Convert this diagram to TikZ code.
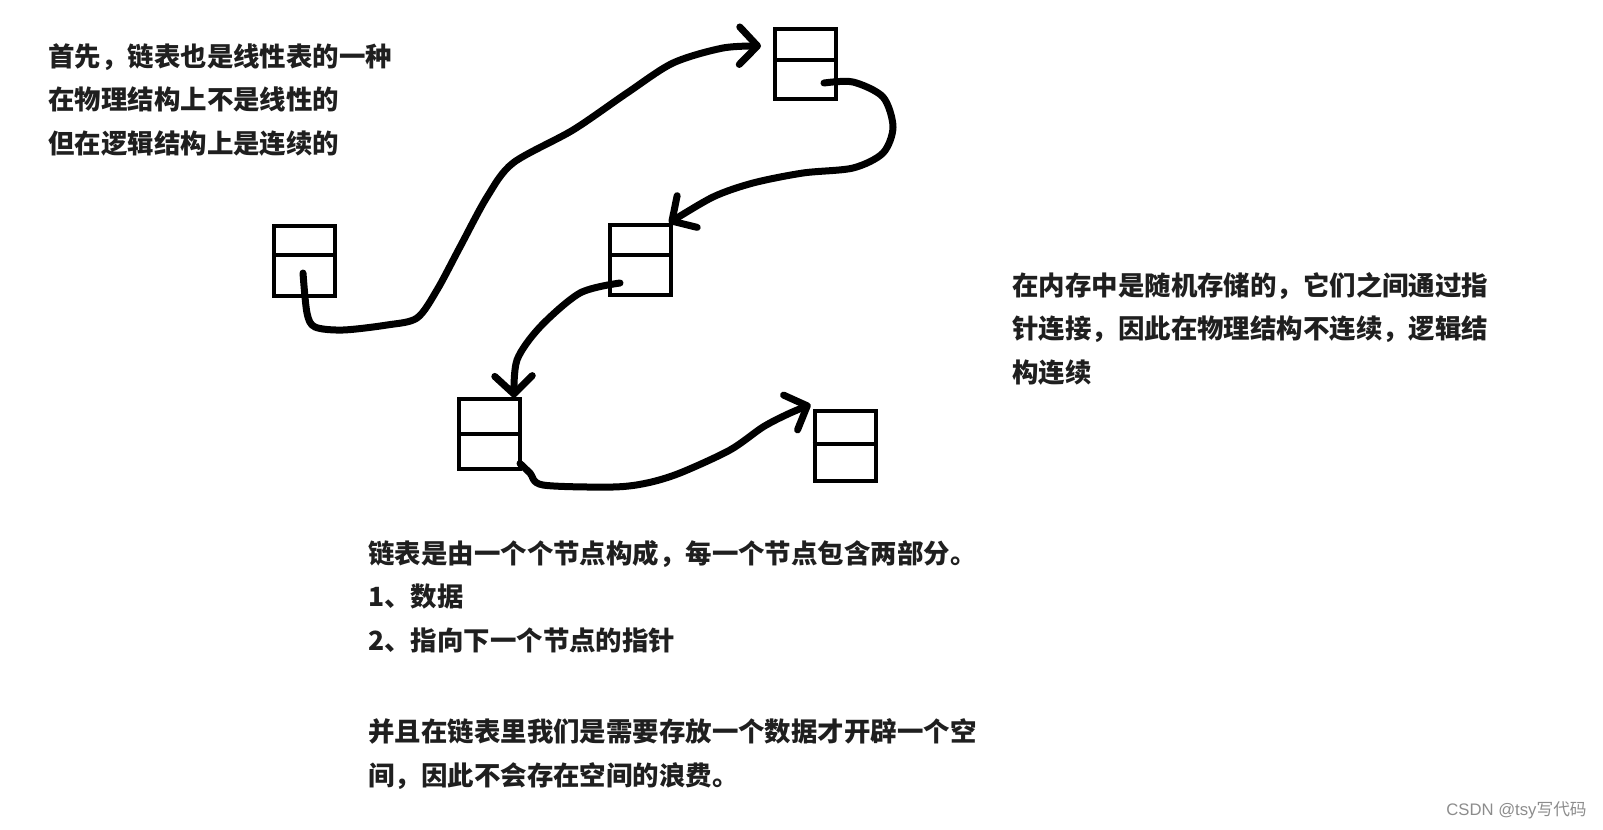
\documentclass[tikz,border=0pt]{standalone}
\usepackage{fontspec}
\newfontfamily\cjk{Noto Sans CJK SC}
\newfontfamily\markfont{Liberation Sans}
\usetikzlibrary{arrows.meta,calc}

\tikzset{
  cell/.style={draw, line width=0.08cm, minimum width=1.22cm, minimum height=1.4cm, inner sep=0pt},
  link/.style={line width=0.14cm, line cap=round, line join=round,
    -{Straight Barb[length=0.36cm, width=0.75cm, line width=0.14cm, round]}},
  note/.style={anchor=north west, inner sep=0pt, align=left, text=black!88,
    font=\cjk\bfseries\fontsize{15.05pt}{24.8pt}\selectfont},
}

\begin{document}
\begin{tikzpicture}[x=0.02cm, y=-0.02cm]
  \useasboundingbox (0,0) rectangle (1603,829);
  % list cells
  \node[cell] (n1) at (304.5,261) {};
  \node[cell] (n2) at (805.5,64) {};
  \node[cell] (n3) at (640.5,260) {};
  \node[cell] (n4) at (489.5,433.5) {};
  \node[cell] (n5) at (845,445.5) {};
  \foreach \n/\f in {n1/0.42,n2/0.45,n3/0.43,n4/0.5,n5/0.48}
    \draw[line width=0.08cm] ($(\n.north west)!\f!(\n.south west)$) -- ($(\n.north east)!\f!(\n.south east)$);
  % pointer ends
  \coordinate (a1) at ($(n1.center)+(-1.5,12)$);
  \coordinate (b1) at ($(n2.west)+(-12,-18)$);
  \coordinate (a2) at ($(n2.center)+(18.5,19)$);
  \coordinate (b2) at ($(n3.north east)+(-4,0)$);
  \coordinate (a3) at ($(n3.center)+(-20.5,23)$);
  \coordinate (b3) at ($(n4.north east)+(-8,1)$);
  \coordinate (a4) at ($(n4.south east)+(-2,-7)$);
  \coordinate (b4) at ($(n5.north west)+(-2,-4)$);
  % pointers
  \draw[link] plot[smooth] coordinates {(a1) (307,313) (315,327) (343,330) (387,325) (417,318) (437,290) (460,247) (487,197) (513,163) (573,130) (627,93) (673,63) (723,48) (b1)};
  \draw[link] plot[smooth] coordinates {(a2) (853,82) (883,97) (893,127) (883,153) (853,168) (803,173) (753,183) (713,197) (b2)};
  \draw[link] plot[smooth] coordinates {(a3) (580,293) (540,327) (517,360) (b3)};
  \draw[link] plot[smooth] coordinates {(a4) (530,473) (543,485) (613,487) (647,483) (680,473) (730,450) (763,427) (788,414) (b4)};
  % texts
  \node[note] (intro) at (48,43) {首先，链表也是线性表的一种\\在物理结构上不是线性的\\但在逻辑结构上是连续的};
  \node[note] (memory) at (1012,272) {在内存中是随机存储的，它们之间通过指\\针连接，因此在物理结构不连续，逻辑结\\构连续};
  \node[note] (parts) at (368,540) {链表是由一个个节点构成，每一个节点包含两部分。\\1、数据\\2、指向下一个节点的指针\\[0.95cm]并且在链表里我们是需要存放一个数据才开辟一个空\\间，因此不会存在空间的浪费。};
  \node[anchor=east, inner sep=0pt, text=black!45, font=\markfont\fontsize{9.5pt}{11pt}\selectfont] (mark) at (1587,810) {CSDN @tsy{\cjk 写代码}};
\end{tikzpicture}
\end{document}
